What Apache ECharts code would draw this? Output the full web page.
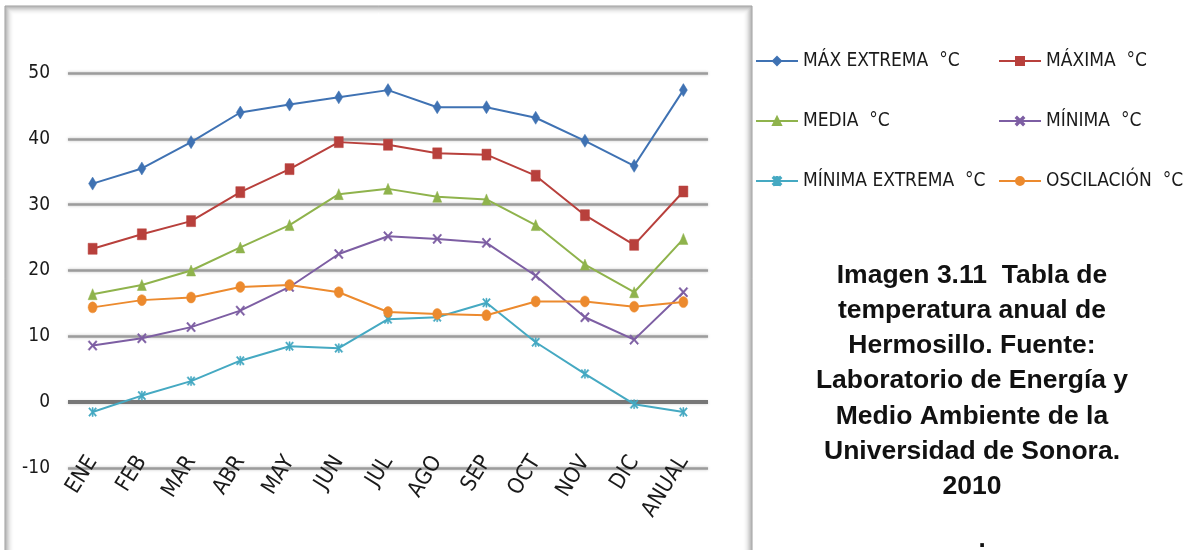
<!DOCTYPE html>
<html>
<head>
<meta charset="utf-8">
<script src="https://cdn.jsdelivr.net/npm/echarts@6/dist/echarts.min.js"></script>
<style>
  html, body { margin: 0; padding: 0; background: #ffffff; }
  #chart { width: 1183px; height: 550px; }
</style>
</head>
<body>
<div id="chart"></div>
<script>
// Temperaturas mensuales de Hermosillo (°C)
const months = ['ENE', 'FEB', 'MAR', 'ABR', 'MAY', 'JUN', 'JUL', 'AGO', 'SEP', 'OCT', 'NOV', 'DIC', 'ANUAL'];
const maxExtrema = [33.2, 35.5, 39.5, 44.0, 45.2, 46.3, 47.4, 44.8, 44.8, 43.2, 39.7, 35.9, 47.4];
const maxima     = [23.3, 25.5, 27.5, 31.9, 35.4, 39.5, 39.1, 37.8, 37.6, 34.4, 28.4, 23.9, 32.0];
const media      = [16.4, 17.8, 20.0, 23.5, 26.9, 31.6, 32.4, 31.2, 30.8, 26.9, 20.9, 16.7, 24.8];
const minima     = [8.6, 9.7, 11.4, 13.9, 17.5, 22.5, 25.2, 24.8, 24.2, 19.2, 12.9, 9.5, 16.7];
const minExtrema = [-1.5, 1.0, 3.2, 6.3, 8.5, 8.2, 12.6, 12.9, 15.1, 9.1, 4.3, -0.3, -1.5];
const oscilacion = [14.4, 15.5, 15.9, 17.5, 17.8, 16.7, 13.7, 13.4, 13.2, 15.3, 15.3, 14.5, 15.2];

const seriesNames = ['MÁX EXTREMA  °C', 'MÁXIMA  °C', 'MEDIA  °C', 'MÍNIMA  °C', 'MÍNIMA EXTREMA  °C', 'OSCILACIÓN  °C'];
const yTicks = { min: -10, max: 50, step: 10 };

const captionLines = [
  'Imagen 3.11  Tabla de',
  'temperatura anual de',
  'Hermosillo. Fuente:',
  'Laboratorio de Energía y',
  'Medio Ambiente de la',
  'Universidad de Sonora.',
  '2010'
];

const narrow = '"Liberation Sans Narrow", "DejaVu Sans Condensed", sans-serif';

// marker shapes
const crossPath = 'path://M0,1.2 L1.2,0 L5,3.8 L8.8,0 L10,1.2 L6.2,5 L10,8.8 L8.8,10 L5,6.2 L1.2,10 L0,8.8 L3.8,5 Z';
const starPath = 'path://M0,1.2 L1.2,0 L5,3.8 L8.8,0 L10,1.2 L6.2,5 L10,8.8 L8.8,10 L5,6.2 L1.2,10 L0,8.8 L3.8,5 Z M4.3,0 L5.7,0 L5.7,10 L4.3,10 Z';

function lineSeries(name, data, color, symbol, size, extra) {
  return Object.assign({
    name: name,
    type: 'line',
    data: data,
    symbol: symbol,
    symbolSize: size,
    showAllSymbol: true,
    lineStyle: { color: color, width: 2 },
    itemStyle: { color: color, borderColor: color, borderWidth: 0.5 },
    emphasis: { disabled: true },
    animation: false
  }, extra || {});
}

// chart frame with soft inner shading
const frame = [];
for (let i = 0; i < 9; i++) {
  const a = 0.5 * Math.pow(1 - i / 9, 2);
  frame.push({
    type: 'rect',
    shape: { x: 5 + i, y: 6 + i, width: 747 - 2 * i, height: 560 - 2 * i },
    style: { fill: 'none', stroke: 'rgba(60,60,60,' + a.toFixed(3) + ')', lineWidth: 1 },
    silent: true,
    z: 0
  });
}

const legendText = { fontFamily: narrow, fontSize: 19, color: '#1a1a1a', lineHeight: 22 };

const chart = echarts.init(document.getElementById('chart'), null, { renderer: 'canvas' });
chart.setOption({
  backgroundColor: '#ffffff',
  animation: false,
  grid: { left: 68, right: 475, top: 73, bottom: 82, containLabel: false, outerBoundsMode: 'none' },
  legend: [
    {
      orient: 'vertical', left: 755, top: 50, itemGap: 38, padding: 0,
      itemWidth: 42, itemHeight: 10,
      data: [seriesNames[0], seriesNames[2], seriesNames[4]],
      textStyle: legendText,
      selectedMode: false
    },
    {
      orient: 'vertical', left: 998, top: 50, itemGap: 38, padding: 0,
      itemWidth: 42, itemHeight: 10,
      data: [seriesNames[1], seriesNames[3], seriesNames[5]],
      textStyle: legendText,
      selectedMode: false
    }
  ],
  xAxis: {
    type: 'category',
    data: months,
    boundaryGap: true,
    axisLine: { show: false },
    axisTick: { show: false },
    splitLine: { show: false },
    axisLabel: {
      interval: 0,
      rotate: 58,
      margin: -10,
      fontFamily: narrow,
      fontSize: 22,
      color: '#1a1a1a'
    }
  },
  yAxis: {
    type: 'value',
    min: yTicks.min,
    max: yTicks.max,
    interval: yTicks.step,
    axisLine: { show: false },
    axisTick: { show: false },
    axisLabel: { margin: 18, fontFamily: narrow, fontSize: 19, color: '#1a1a1a' },
    splitLine: {
      show: true,
      lineStyle: { color: '#9c9c9c', width: 2.5, shadowColor: 'rgba(0,0,0,0.25)', shadowBlur: 3 }
    }
  },
  series: [
    lineSeries(seriesNames[0], maxExtrema, '#3f72b3', 'diamond', [8, 13], {
      markLine: {
        silent: true,
        symbol: 'none',
        label: { show: false },
        lineStyle: { color: '#777777', width: 4, type: 'solid' },
        data: [{ yAxis: 0 }],
        z: 1
      }
    }),
    lineSeries(seriesNames[1], maxima, '#b8403c', 'rect', [9, 11]),
    lineSeries(seriesNames[2], media, '#8fb34c', 'triangle', [9, 11]),
    lineSeries(seriesNames[3], minima, '#7d5ea3', crossPath, [9, 10]),
    lineSeries(seriesNames[4], minExtrema, '#45a9c2', starPath, [8, 9]),
    lineSeries(seriesNames[5], oscilacion, '#ec8a2e', 'circle', [9, 11])
  ],
  graphic: frame.concat([
    {
      type: 'text',
      x: 972,
      y: 381,
      silent: true,
      style: {
        text: captionLines.join('\n'),
        font: 'bold 26.5px "Liberation Sans", Arial, sans-serif',
        lineHeight: 35.2,
        fill: '#111111',
        align: 'center',
        verticalAlign: 'middle'
      }
    },
    {
      type: 'text',
      x: 982,
      y: 553,
      silent: true,
      style: {
        text: '.',
        font: 'bold 26px "Liberation Sans", Arial, sans-serif',
        fill: '#111111',
        align: 'center',
        verticalAlign: 'bottom'
      }
    }
  ])
});
</script>
</body>
</html>
